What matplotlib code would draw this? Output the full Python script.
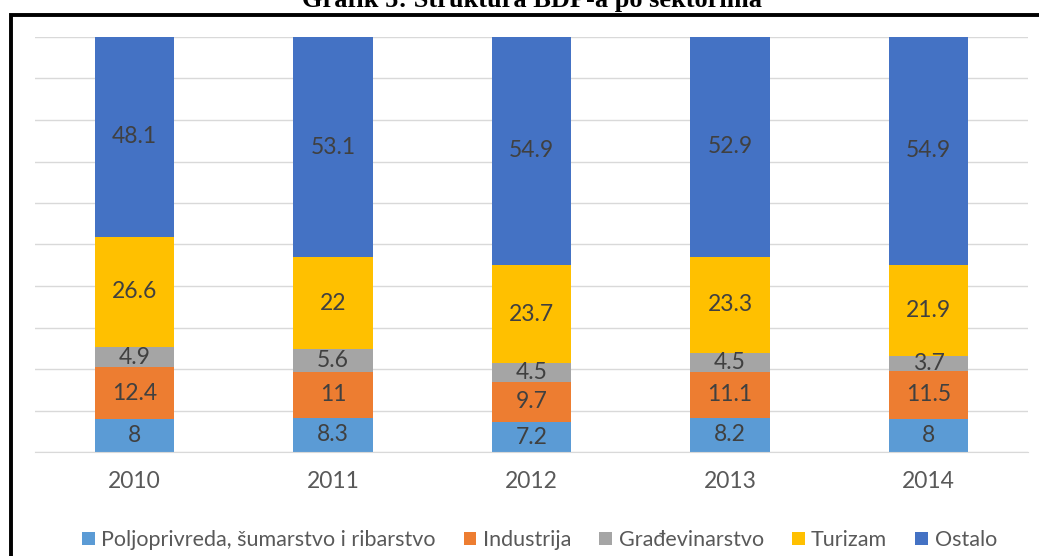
import numpy as np
import matplotlib.pyplot as plt
from matplotlib.patches import Rectangle

years = ['2010', '2011', '2012', '2013', '2014']
sectors = ['Poljoprivreda, šumarstvo i ribarstvo', 'Industrija',
           'Građevinarstvo', 'Turizam', 'Ostalo']
poljoprivreda = [8, 8.3, 7.2, 8.2, 8]
industrija = [12.4, 11, 9.7, 11.1, 11.5]
gradjevinarstvo = [4.9, 5.6, 4.5, 4.5, 3.7]
turizam = [26.6, 22, 23.7, 23.3, 21.9]
ostalo = [48.1, 53.1, 54.9, 52.9, 54.9]

series = [poljoprivreda, industrija, gradjevinarstvo, turizam, ostalo]
colors = ['#5B9BD5', '#ED7D31', '#A5A5A5', '#FFC000', '#4472C4']

plt.rcParams['font.family'] = ['Lato', 'DejaVu Sans']

fig = plt.figure(figsize=(10.39, 5.56), dpi=100)
ax = fig.add_axes([35 / 1039, 1 - 452 / 556, 993 / 1039, 415 / 556])

x = np.arange(len(years))
bottom = np.zeros(len(years))
for vals, name, col in zip(series, sectors, colors):
    vals = np.array(vals, dtype=float)
    ax.bar(x, vals, 0.4, bottom=bottom, color=col, label=name, zorder=2)
    for xi, b, v in zip(x, bottom, vals):
        ax.text(xi, b + v / 2, f"{v:g}", ha='center', va='center',
                fontsize=16.5, color='#404040', zorder=3)
    bottom += vals

ax.set_xlim(-0.5, 4.5)
ax.set_ylim(0, 100)
ax.set_yticks(np.arange(0, 101, 10))
ax.yaxis.grid(True, color='#D9D9D9', linewidth=1, zorder=0)
ax.set_yticklabels([])
ax.tick_params(axis='y', length=0)
ax.set_xticks(x)
ax.set_xticklabels(years, fontsize=16.5, color='#595959')
ax.tick_params(axis='x', length=0, pad=14)
for s in ['top', 'right', 'left']:
    ax.spines[s].set_visible(False)
ax.spines['bottom'].set_color('#D9D9D9')

leg = fig.legend(loc='center', bbox_to_anchor=(0.519, 1 - 540 / 556), ncol=5,
                 frameon=False, fontsize=15.5, handlelength=0.6, handleheight=0.6,
                 handletextpad=0.3, columnspacing=1.3)
for t in leg.get_texts():
    t.set_color('#595959')

fig.text(0.512, 1 - 7 / 556, 'Grafik 5: Struktura BDP-a po sektorima',
         ha='center', va='baseline', fontsize=19, fontweight='bold',
         family='Liberation Serif')

# black frame around the chart
fig.patches.append(Rectangle((10.5 / 1039, -0.1), 1.2, 1 - 14.5 / 556 + 0.1,
                             transform=fig.transFigure, fill=False,
                             edgecolor='black', linewidth=2.8))

fig.savefig('out.png', dpi=100)
